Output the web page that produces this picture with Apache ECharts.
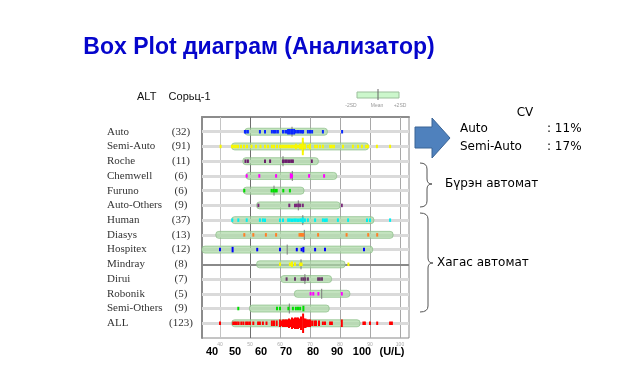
<!DOCTYPE html>
<html>
<head>
<meta charset="utf-8">
<title>Box Plot</title>
<script src="https://cdn.jsdelivr.net/npm/echarts@6/dist/echarts.min.js"></script>
<style>
  html, body { margin: 0; padding: 0; background: #fff; }
  #chart { width: 625px; height: 377px; }
</style>
</head>
<body>
<div id="chart"></div>
<script>
// rows, top to bottom
var categories = ['Auto', 'Semi-Auto', 'Roche', 'Chemwell', 'Furuno', 'Auto-Others', 'Human',
  'Diasys', 'Hospitex', 'Mindray', 'Dirui', 'Robonik', 'Semi-Others', 'ALL'];
var counts = [32, 91, 11, 6, 6, 9, 37, 13, 12, 8, 7, 5, 9, 123];
var boxLow = [48.3, 43.9, 47.6, 48.7, 47.8, 52.2, 43.9, 38.6, 34, 52.2, 60.3, 64.8, 49.8, 43.9];
var boxHigh = [75.8, 89.5, 72.8, 78.9, 68, 80, 91.3, 97.7, 90.9, 81.7, 77.2, 83.3, 76.4, 86.7];
var medians = [64, 67.7, 61, 64.1, 58, 66.1, 67.6, 68.1, 62.4, 67, 68.3, 73.9, 63.1, 67];

// individual results (U/L) per row, repeated values pile up
var dotsAuto = [48.3, 48.6, 49.3, 53.3, 55, 57.3, 58, 58.6, 59.3, 61, 61.8, 62.3, 62.7, 62.7, 63.3, 63.3,
  64, 64, 64.7, 64.7, 65.3, 66, 66.7, 67.3, 67.7, 69.3, 70, 70.7, 74.3, 80.7];
var dotsSemiAuto = [40.2, 44, 44.7, 45.3, 46, 47, 48, 49, 50.5, 52, 53.5, 55, 56, 57.3, 58, 59, 60, 60.7,
  61.3, 62, 62.7, 63.3, 64, 64.7, 65.3, 65.3, 66, 66.7, 66.7, 67.3, 67.3, 67.6, 67.6, 67.6, 67.6, 67.6,
  67.6, 67.6, 67.6, 68, 68.3, 68.3, 69.3, 70, 70, 71.7, 72.3, 73.3, 74.3, 76.7, 77.3, 78, 81, 84.3, 86,
  87.3, 88.7, 89.3, 92.3, 96.7];
var dotsRoche = [48.5, 49.3, 55, 56.7, 61, 61.7, 62.3, 63, 63.7, 64.3, 70.6];
var dotsChemwell = [48.9, 53.1, 58.7, 63.6, 63.6, 64, 69.7, 74.7];
var dotsFuruno = [48.1, 57.2, 57.8, 58.4, 58.9, 61.1, 63.3];
var dotsAutoOthers = [52.8, 63.1, 65, 65.6, 66.2, 66.7, 67.6, 80.6];
var dotsHuman = [44.1, 46.1, 48.9, 53.3, 54.3, 55, 60, 61, 62.7, 63.3, 64, 64.7, 65.3, 66, 66.7, 67.2,
  67.6, 67.6, 68.3, 69.3, 71.7, 74.3, 75, 75.6, 79.3, 82.7, 89, 90, 96.7];
var dotsDiasys = [48.1, 51.1, 55.3, 58.7, 66.5, 67, 67.4, 67.8, 72.7, 82.2, 89.4, 92.4];
var dotsHospitex = [40, 44.2, 44.2, 52.4, 60, 65.6, 67.2, 67.8, 67.8, 71.7, 75, 88];
var dotsMindray = [60, 63.3, 64, 64, 65, 66.7, 67.2, 82.8];
var dotsDirui = [62.2, 65, 67.2, 67.8, 68.4, 69.3, 72.7, 73.3, 74];
var dotsRobonik = [70.2, 71.1, 72.8, 80.6];
var dotsSemiOthers = [46.1, 59, 60, 62.8, 64.3, 65.3, 66, 66.7, 67.8, 67.8];
var dotsAll = [40, 44.4, 45, 45.6, 46.2, 47.1, 47.8, 48.7, 49.3, 50, 51.1, 52.7, 53.3, 54.3, 55.5,
  57.3, 57.3, 58, 58, 58.9, 58.9, 60, 60, 60, 60.5, 60.5, 61, 61, 61, 61.5, 61.5, 61.5, 62, 62, 62,
  62.5, 62.5, 62.5, 63, 63, 63, 63, 63.5, 63.5, 63.5, 64, 64, 64, 64, 64, 64.5, 64.5, 64.5, 64.5,
  65, 65, 65, 65, 65, 65.5, 65.5, 65.5, 65.5, 65.5, 66, 66, 66, 66, 66, 66.5, 66.5, 66.5, 66.5,
  67, 67, 67, 67, 67, 67, 67.7, 67.7, 67.7, 67.7, 67.7, 67.7, 67.7, 67.7, 67.7, 68, 68, 68, 68,
  68.5, 68.5, 68.5, 68.5, 69, 69, 69, 69.5, 69.5, 69.5, 70, 70, 70, 70.7, 70.7, 71.5, 71.5, 72, 72,
  73, 73, 74.3, 75, 76.7, 77.3, 80.6, 80.6, 80.6, 87.8, 88.3, 90, 92.4, 96.7, 97.3];

var xTicks = [40, 50, 60, 70, 80, 90, 100];
var unitLabels = ['40', '50', '60', '70', '80', '90', '100', '(U/L)'];

var dots = [dotsAuto, dotsSemiAuto, dotsRoche, dotsChemwell, dotsFuruno, dotsAutoOthers, dotsHuman,
  dotsDiasys, dotsHospitex, dotsMindray, dotsDirui, dotsRobonik, dotsSemiOthers, dotsAll];

// styling
var rowColors = ['#0a28ff', '#f8f800', '#6b1f6b', '#ff00ff', '#00dd00', '#7a2a7a', '#00f0f0',
  '#ff7f27', '#0000ff', '#f8f800', '#6b3a6b', '#ff00ff', '#00dd00', '#ff0000'];
var unitLabelX = [212, 235, 261, 286, 313, 337, 362, 392];

var chart = echarts.init(document.getElementById('chart'));

// boxes
var boxData = categories.map(function (c, i) {
  return [boxLow[i], boxHigh[i], medians[i], i + 1];
});

// dots, repeated values stack into taller marks
var dotData = [];
dots.forEach(function (vals, i) {
  var tally = {};
  vals.forEach(function (v) { tally[v] = (tally[v] || 0) + 1; });
  Object.keys(tally).forEach(function (k) {
    dotData.push({ value: [Number(k), i + 1, tally[k]], itemStyle: { color: rowColors[i], opacity: 1 } });
  });
});

var rowLines = categories.map(function (c, i) {
  var dark = c === 'Mindray';
  return { yAxis: i + 1, lineStyle: { color: dark ? '#8a8a8a' : '#dadada', width: dark ? 2 : 3, type: 'solid' } };
});
var gridLines = xTicks.map(function (v) {
  return { xAxis: v, lineStyle: { color: v === 50 ? '#6e6e6e' : (v === 40 ? '#c4c4c4' : '#a8a8a8'), width: 1, type: 'solid' } };
});

var txt = function (text, x, y, opts) {
  opts = opts || {};
  return {
    type: 'text', silent: true,
    style: {
      text: text, x: x, y: y,
      font: opts.font || '12px "DejaVu Sans"',
      fill: opts.fill || '#000',
      textAlign: opts.align || 'left',
      textVerticalAlign: 'middle'
    }
  };
};

// curly brace "}" built from curves and lines
var brace = function (x0, x1, x2, top, mid, bottom) {
  var st = { stroke: '#555', lineWidth: 1, fill: null };
  return {
    type: 'group', silent: true,
    children: [
      { type: 'bezierCurve', shape: { x1: x0, y1: top, x2: x1, y2: top + 6, cpx1: x1, cpy1: top }, style: st },
      { type: 'line', shape: { x1: x1, y1: top + 6, x2: x1, y2: mid - 5 }, style: st },
      { type: 'bezierCurve', shape: { x1: x1, y1: mid - 5, x2: x2, y2: mid, cpx1: x1, cpy1: mid }, style: st },
      { type: 'bezierCurve', shape: { x1: x2, y1: mid, x2: x1, y2: mid + 5, cpx1: x1, cpy1: mid }, style: st },
      { type: 'line', shape: { x1: x1, y1: mid + 5, x2: x1, y2: bottom - 6 }, style: st },
      { type: 'bezierCurve', shape: { x1: x1, y1: bottom - 6, x2: x0, y2: bottom, cpx1: x1, cpy1: bottom }, style: st }
    ]
  };
};

var graphics = [
  txt('Box Plot диаграм (Анализатор)', 259, 48, { font: 'bold 23px "Liberation Sans"', fill: '#0505cc', align: 'center' }),
  txt('ALT    Сорьц-1', 137, 97, { font: '11px "Liberation Sans"', fill: '#111' }),
  // legend key
  { type: 'rect', silent: true, shape: { x: 357, y: 92, width: 42, height: 6 }, style: { fill: '#ccf7cc', stroke: '#9bbf9b', lineWidth: 1 } },
  { type: 'line', silent: true, shape: { x1: 378, y1: 89, x2: 378, y2: 100 }, style: { stroke: '#666', lineWidth: 1 } },
  txt('-2SD', 351, 106, { font: '5px "Liberation Sans"', fill: '#999', align: 'center' }),
  txt('Mean', 377, 106, { font: '5px "Liberation Sans"', fill: '#999', align: 'center' }),
  txt('+2SD', 400, 106, { font: '5px "Liberation Sans"', fill: '#999', align: 'center' }),
  // arrow
  { type: 'polygon', silent: true,
    shape: { points: [[415, 127], [432, 127], [432, 118], [450, 138], [432, 158], [432, 148], [415, 148]] },
    style: { fill: '#4f81bd', stroke: '#3a6496', lineWidth: 1 } },
  txt('CV', 525, 113, { align: 'center' }),
  txt('Auto', 460, 129),
  txt(': 11%', 547, 129),
  txt('Semi-Auto', 460, 147),
  txt(': 17%', 547, 147),
  brace(420, 427, 432, 163, 184, 207),
  txt('Бүрэн автомат', 445, 184),
  brace(420, 428, 433, 213, 263, 312),
  txt('Хагас автомат', 437, 263)
];
unitLabels.forEach(function (t, i) {
  graphics.push(txt(t, unitLabelX[i], 352, { font: 'bold 11px "Liberation Sans"', fill: '#000', align: 'center' }));
});

var option = {
  animation: false,
  backgroundColor: '#fff',
  grid: { left: 202, top: 117, width: 207, height: 221, show: true, borderColor: '#8a8a8a', borderWidth: 1 },
  xAxis: {
    type: 'value', min: 34, max: 103,
    axisLine: { show: true, lineStyle: { color: '#8c8c8c', width: 2 } },
    axisTick: { show: false },
    splitLine: { show: false },
    axisLabel: {
      margin: 4, fontSize: 5, color: '#aaa',
      formatter: function (v) { return xTicks.indexOf(v) >= 0 ? String(v) : ''; }
    }
  },
  yAxis: {
    type: 'value', inverse: true, min: 0, max: 15, interval: 1,
    axisLine: { show: true, lineStyle: { color: '#8c8c8c', width: 2 } },
    axisTick: { show: false },
    splitLine: { show: false },
    axisLabel: {
      margin: 9,
      formatter: function (v) {
        if (v < 1 || v > categories.length) return '';
        return '{n|' + categories[v - 1] + '}{c|(' + counts[v - 1] + ')}';
      },
      rich: {
        n: { width: 62, align: 'left', fontFamily: '"Liberation Serif"', fontSize: 11, color: '#333' },
        c: { width: 24, align: 'center', fontFamily: '"Liberation Serif"', fontSize: 11, color: '#333' }
      }
    }
  },
  graphic: graphics,
  series: [
    {
      type: 'scatter', data: [], z: 1, silent: true,
      markLine: { z: 1, silent: true, symbol: ['none', 'none'], label: { show: false }, animation: false,
        data: gridLines.concat(rowLines) }
    },
    {
      type: 'custom', z: 2, silent: true,
      encode: { x: [0, 1, 2], y: 3 },
      data: boxData,
      renderItem: function (params, api) {
        var row = api.value(3);
        var a = api.coord([api.value(0), row]);
        var b = api.coord([api.value(1), row]);
        var m = api.coord([api.value(2), row]);
        return {
          type: 'group',
          children: [
            { type: 'rect', shape: { x: a[0], y: a[1] - 3.5, width: b[0] - a[0], height: 7, r: 3 },
              style: { fill: 'rgba(172,216,166,0.72)', stroke: 'rgba(140,190,135,0.7)', lineWidth: 1 } },
            { type: 'line', shape: { x1: m[0], y1: m[1] - 5, x2: m[0], y2: m[1] + 5 },
              style: { stroke: '#7a7a7a', lineWidth: 1 } }
          ]
        };
      }
    },
    {
      type: 'scatter', z: 3, silent: true,
      symbol: 'rect',
      symbolSize: function (val) { return [2, 3.5 + 2 * (val[2] - 1)]; },
      itemStyle: { opacity: 1 },
      data: dotData
    }
  ]
};
chart.setOption(option);
</script>
</body>
</html>
